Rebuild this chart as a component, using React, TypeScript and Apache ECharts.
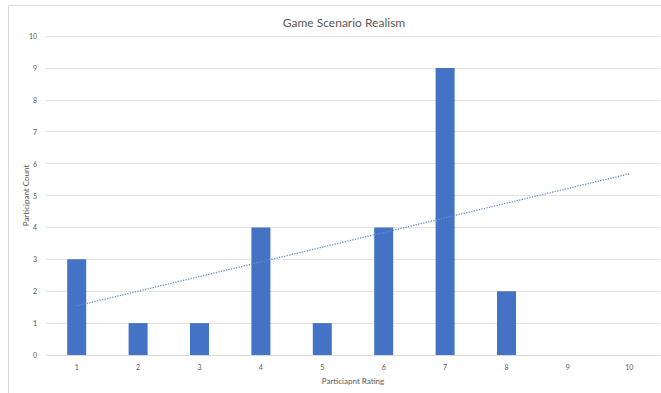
import React, { useEffect, useRef } from "react";
import * as echarts from "echarts";

const categories = ["1", "2", "3", "4", "5", "6", "7", "8", "9", "10"];
const counts = [3, 1, 1, 4, 1, 4, 9, 2, 0, 0];
const trend = [1.54, null, null, null, null, null, null, null, null, 5.68];

export default function App() {
  const ref = useRef<HTMLDivElement>(null);
  useEffect(() => {
    const chart = echarts.init(ref.current!, null, { renderer: "svg" });
    const font = "Lato, 'Open Sans', sans-serif";
    chart.setOption({
      animation: false,
      backgroundColor: "#ffffff",
      textStyle: { fontFamily: font },
      title: {
        text: "Game Scenario Realism",
        left: 339,
        textAlign: "center",
        top: 11,
        textStyle: { fontSize: 12, fontWeight: "normal", color: "#595959", fontFamily: font },
      },
      graphic: [
        {
          type: "rect",
          shape: { x: 8.5, y: 5.5, width: 670, height: 400 },
          style: { fill: "none", stroke: "#d9d9d9", lineWidth: 1 },
          silent: true,
        },
      ],
      grid: { left: 46, right: 1, top: 36, bottom: 38, containLabel: false },
      xAxis: {
        type: "category",
        data: categories,
        name: "Particiapnt Rating",
        nameLocation: "middle",
        nameGap: 22,
        nameTextStyle: { fontSize: 8, color: "#595959", fontFamily: font },
        axisLine: { show: true, lineStyle: { color: "#d9d9d9" } },
        axisTick: { show: false },
        axisLabel: { fontSize: 7, color: "#595959", margin: 8 },
      },
      yAxis: {
        type: "value",
        min: 0,
        max: 10,
        interval: 1,
        name: "Participant Count",
        nameLocation: "middle",
        nameGap: 16,
        nameMoveOverlap: false,
        nameRotate: 90,
        nameTextStyle: { fontSize: 8, color: "#595959", fontFamily: font },
        axisLine: { show: false },
        axisTick: { show: false },
        axisLabel: { fontSize: 7, color: "#595959", margin: 9 },
        splitLine: { lineStyle: { color: "#e3e3e3" } },
      },
      series: [
        {
          type: "bar",
          data: counts,
          barWidth: 19,
          itemStyle: { color: "#4472C4" },
        },
        {
          type: "line",
          data: trend,
          connectNulls: true,
          symbol: "none",
          lineStyle: { color: "#6a8fd0", width: 1.3, type: [1.3, 1.3] },
          z: 3,
        },
      ],
    });
    return () => chart.dispose();
  }, []);
  return <div ref={ref} style={{ width: 661, height: 393, position: "absolute", left: 0, top: 0 }} />;
}
